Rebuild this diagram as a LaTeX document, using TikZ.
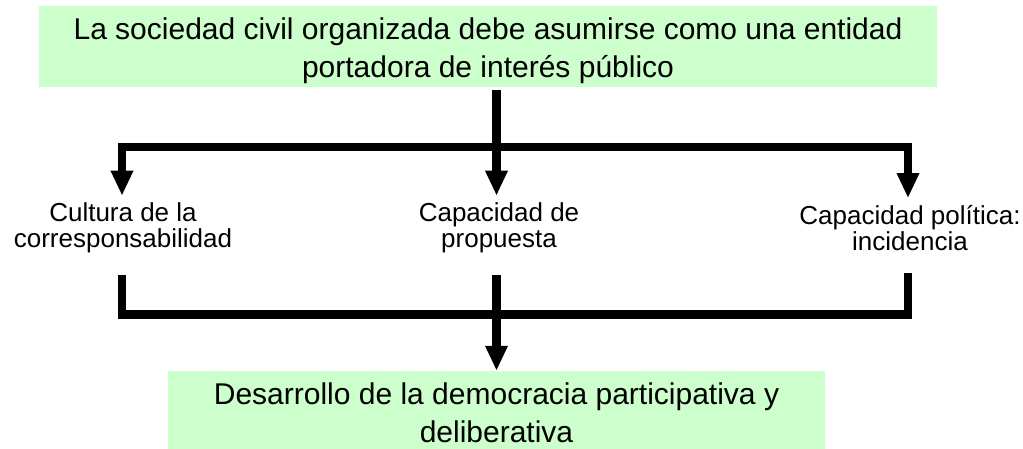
\documentclass[tikz,border=0pt]{standalone}
\usepackage{fontspec}
\setmainfont{Liberation Sans}
\usetikzlibrary{arrows.meta,positioning,calc}
\definecolor{boxgreen}{HTML}{CCFFCC}

\begin{document}
\begin{tikzpicture}[x=1pt,y=-1pt,
    greenbox/.style={fill=boxgreen, draw=none, align=center, inner sep=0pt,
      font=\fontsize{30}{38}\selectfont},
    capbox/.style={align=center, inner sep=0pt, font=\fontsize{26}{26}\selectfont},
    link/.style={line width=8.5pt},
    arr/.style={line width=8.5pt, -{Triangle[width=21pt,length=25pt]}}]
    \useasboundingbox (0,0) rectangle (1023,449);
    % Draw the boxes
    \node[greenbox, minimum width=898pt, minimum height=81pt] (top) at (488,46.5)
      {\rule{0pt}{30pt}La sociedad civil organizada debe asumirse como una entidad\\portadora de interés público};
    \node[greenbox, minimum width=657pt, minimum height=78pt] (bottom) at (496.5,410)
      {\rule{0pt}{28pt}Desarrollo de la democracia participativa y\\deliberativa};
    % Draw the capacities
    \node[capbox] (cultura) at (123,228) {Cultura de la\\corresponsabilidad};
    \node[capbox] (propuesta) at (499,228) {Capacidad de\\propuesta};
    \node[capbox] (incidencia) at (910,228) {Capacidad política:\\incidencia};
    % Split and merge points
    \coordinate (split) at (496.5,147);
    \coordinate (merge) at (496.5,314.5);
    % Upper arrows
    \draw[link, shorten <=3pt] (top.south -| split) -- (split);
    \draw[arr, shorten >=7pt] (split) -| (cultura.north -| 122,0);
    \draw[arr, shorten >=7pt] (split) -- (split |- propuesta.north);
    \draw[arr, shorten >=7pt] (split) -| (incidencia.north -| 908,0);
    % Lower arrows
    \draw[link, shorten <=22pt] (cultura.south -| 122,0) |- (merge);
    \draw[link, shorten <=22pt] (incidencia.south -| 908,0) |- (merge);
    \draw[link, shorten <=22pt] (propuesta.south -| merge) -- (merge);
    \draw[arr] (merge) -- (bottom.north -| merge);
\end{tikzpicture}
\end{document}
